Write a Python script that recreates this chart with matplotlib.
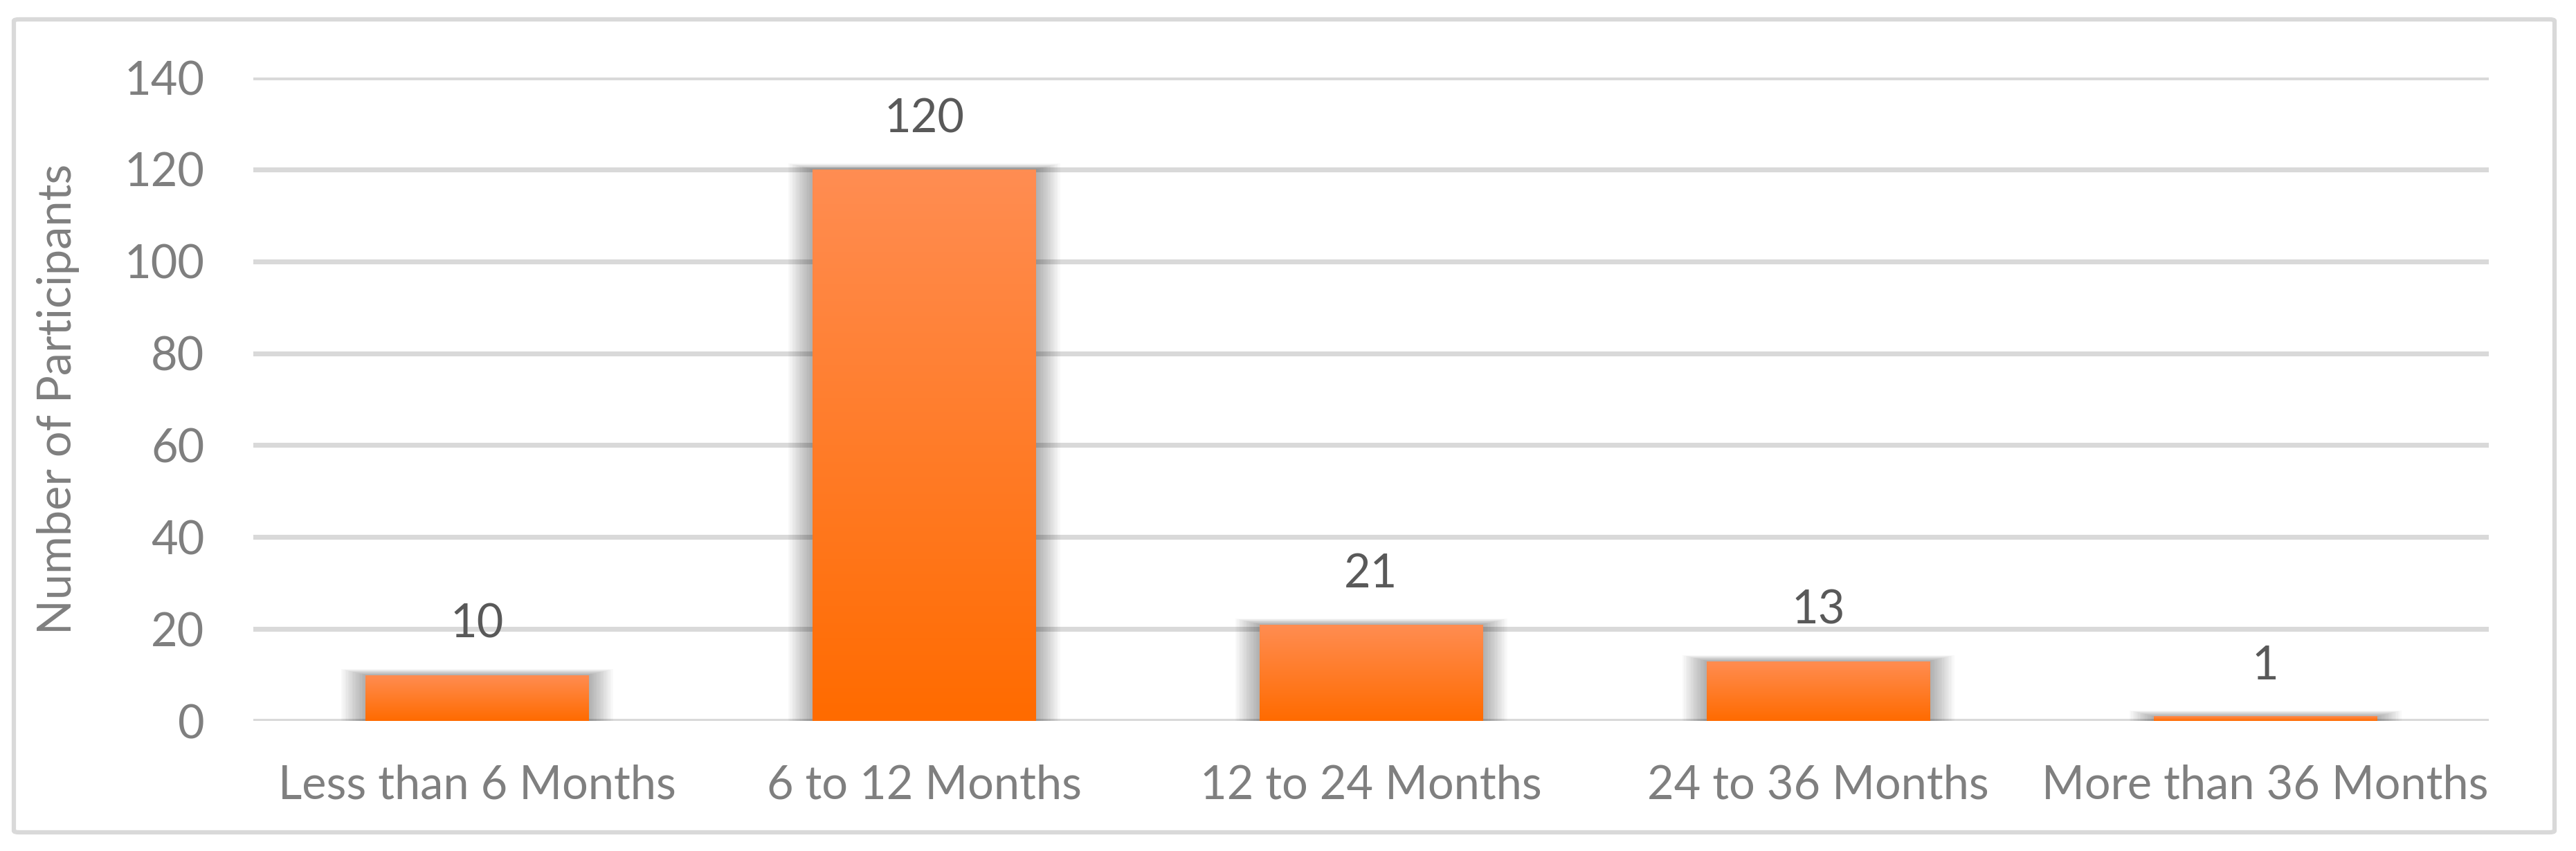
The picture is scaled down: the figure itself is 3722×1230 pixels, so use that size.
import matplotlib
matplotlib.use("Agg")
import matplotlib.pyplot as plt
import numpy as np
from matplotlib.patches import Rectangle, FancyBboxPatch
from matplotlib.colors import LinearSegmentedColormap

categories = ["Less than 6 Months", "6 to 12 Months", "12 to 24 Months",
              "24 to 36 Months", "More than 36 Months"]
values = [10, 120, 21, 13, 1]
yticks = [0, 20, 40, 60, 80, 100, 120, 140]
ylabel = "Number of Participants"

plt.rcParams['font.family'] = ['Lato', 'DejaVu Sans']

W, H, DPI = 3722, 1230, 300
fig = plt.figure(figsize=(W / DPI, H / DPI), dpi=DPI)

# outer border
fig.patches.append(FancyBboxPatch((20 / W, 27 / H), (3691 - 20) / W, (1202 - 27) / H,
                                  boxstyle="round,pad=0,rounding_size=0.002",
                                  transform=fig.transFigure, fill=False,
                                  edgecolor="#d9d9d9", linewidth=1.5, zorder=0))

ax = fig.add_axes([366 / W, 1 - 1042 / H, (3596 - 366) / W, (1042 - 112) / H])
ax.set_xlim(-0.5, len(categories) - 0.5)
ax.set_ylim(0, 140)
ax.set_yticks(yticks)
for s in ax.spines.values():
    s.set_visible(False)
ax.yaxis.grid(True, color="#d9d9d9", linewidth=1.7, zorder=0.5)
ax.set_axisbelow(True)
ax.tick_params(axis='both', length=0, labelsize=16, labelcolor="#7f7f7f")
ax.tick_params(axis='y', pad=17)
ax.tick_params(axis='x', pad=15)

x = np.arange(len(categories))
bw = 0.5
bars = ax.bar(x, values, width=bw, color="none", edgecolor="none", zorder=3)
ax.set_xticks(x)
ax.set_xticklabels(categories)

# soft shadows around bars
px_x = 1.0 / 646.0
px_y = 140.0 / (1042 - 112)
nl = 14
for b in bars:
    x0, w, h = b.get_x(), b.get_width(), b.get_height()
    for k in range(nl, 0, -1):
        ex = k * 2.5 * px_x
        et = k * 0.6 * px_y
        eb = k * 0.5 * px_y
        ax.add_patch(Rectangle((x0 - ex, -eb), w + 2 * ex, h + eb + et,
                               facecolor="black", edgecolor="none", alpha=0.022,
                               zorder=2))

# gradient fill
cmap = LinearSegmentedColormap.from_list("og", ["#FF6B00", "#FF8D52"])
grad = np.linspace(0, 1, 256).reshape(-1, 1)
for b in bars:
    x0, w, h = b.get_x(), b.get_width(), b.get_height()
    im = ax.imshow(grad, extent=[x0, x0 + w, 0, h], origin="lower",
                   aspect="auto", cmap=cmap, zorder=3, interpolation="bilinear")
    im.set_clip_path(b)
ax.set_xlim(-0.5, len(categories) - 0.5)
ax.set_ylim(0, 140)

ax.bar_label(bars, labels=[str(v) for v in values], padding=10, fontsize=16,
             color="#595959")

ax.set_ylabel(ylabel, fontsize=16, color="#7f7f7f")
ax.yaxis.set_label_coords((115 - 366) / 3230, 0.5)

fig.savefig("out.png", dpi=DPI, facecolor="white")
